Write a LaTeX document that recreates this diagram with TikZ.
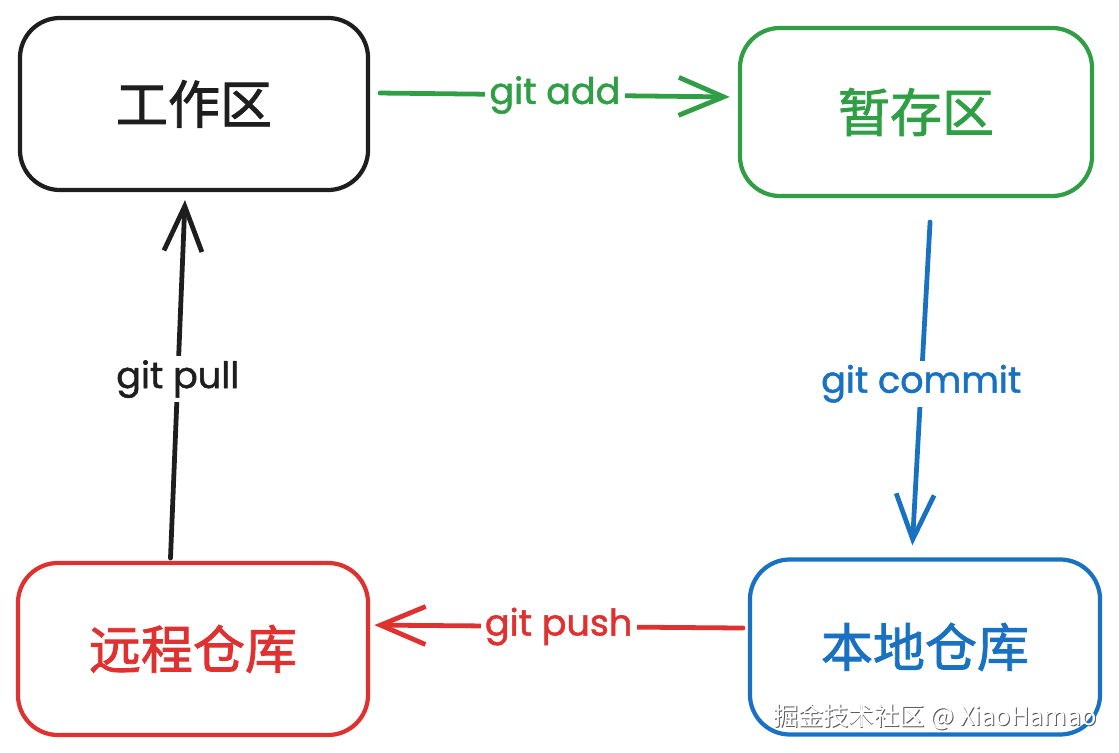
\documentclass[tikz,border=0pt]{standalone}
\usepackage{fontspec}
\newfontfamily\cjk[FakeBold=1.6]{Noto Sans CJK SC}
\newfontfamily\markfont{Noto Sans CJK SC}
\newfontfamily\hand[FakeBold=1.4]{Poppins}
\usetikzlibrary{arrows.meta}
\definecolor{xblack}{HTML}{1E1E1E}
\definecolor{xgreen}{HTML}{2F9E44}
\definecolor{xblue}{HTML}{1971C2}
\definecolor{xred}{HTML}{E03131}

\begin{document}
\begin{tikzpicture}[x=0.025cm, y=-0.025cm,
  area/.style={draw, line width=3pt, rounded corners=1cm, font=\cjk\fontsize{37}{40}\selectfont},
  flow/.style={line width=3.4pt, line cap=round, -{Straight Barb[length=32pt,width=27pt]}},
  cmd/.style={fill=white, inner sep=3pt, font=\hand\fontsize{26}{28}\selectfont}]
 \useasboundingbox (0,0) rectangle (1119,753);

 % areas
 \foreach \n/\x/\y/\w/\h/\c/\t in { work/194/104/8.7/4.3/xblack/工作区, stage/916/112/8.8/4.2/xgreen/暂存区,
     local/925/647/8.75/4.375/xblue/本地仓库, remote/193/649/8.75/4.3/xred/远程仓库 } {
         \node[area, draw=\c, text=\c, minimum width=\w cm, minimum height=\h cm] (\n) at (\x,\y) {\t};
 }

 % lines
 \draw[flow, xgreen] ([xshift=7pt,yshift=7.8pt]work.east) -- node[cmd, text=xgreen] {git add} ([xshift=-5.7pt,yshift=10.7pt]stage.west);
 \draw[flow, xblue] ([xshift=10pt,yshift=-17pt]stage.south) -- node[cmd, text=xblue] {git commit} ([xshift=-9pt,yshift=8.5pt]local.north);
 \draw[flow, xred] ([xshift=-3.5pt,yshift=13.5pt]local.west) -- node[cmd, text=xred] {git push} ([xshift=3pt,yshift=17pt]remote.east);
 \draw[flow, xblack] ([xshift=-16pt,yshift=2pt]remote.north) -- node[cmd, text=xblack] {git pull} ([xshift=-6.4pt,yshift=-5.7pt]work.south);

 % watermark
 \node[font=\markfont\fontsize{18}{20}\selectfont, text=black!65] (markshade) at (936,718) {掘金技术社区 @ XiaoHamao};
 \node[font=\markfont\fontsize{18}{20}\selectfont, text=white] (mark) at ([xshift=-0.7pt,yshift=0.7pt]markshade) {掘金技术社区 @ XiaoHamao};

\end{tikzpicture}
\end{document}
